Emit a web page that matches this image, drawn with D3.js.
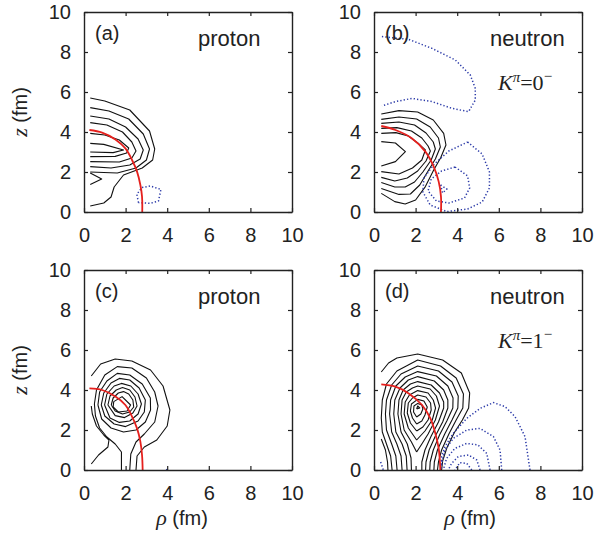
<!DOCTYPE html>
<html><head><meta charset="utf-8">
<script src="https://cdn.jsdelivr.net/npm/d3@7"></script>
<style>body{margin:0;background:#fff}</style>
</head><body>
<svg id="chart" width="596" height="546"></svg>
<script>
// ---------- data (rho, z) in fm ----------
const tickValues = [0, 2, 4, 6, 8, 10];
const tickLabels = ["0", "2", "4", "6", "8", "10"];
const panelLetters = ["(a)", "(b)", "(c)", "(d)"];
const panelNucleons = ["proton", "neutron", "proton", "neutron"];
const panelK = [null, "0", null, "1"];

// panel (a) proton, K=0-
const solidA = [
  [[0.3,5.7],[1.0,5.55],[2.2,5.1],[3.15,4.05],[3.4,3.15],[3.3,2.6],[2.8,2.2],[1.9,1.85],[1.45,1.25],[1.3,0.75],[0.95,0.45],[0.3,0.3]],
  [[0.3,5.22],[1.2,5.05],[2.15,4.65],[2.85,3.9],[3.15,3.15],[3.0,2.6],[2.5,2.2],[1.6,1.95],[0.3,2.0]],
  [[0.3,4.8],[1.2,4.65],[2.0,4.25],[2.6,3.65],[2.85,3.1],[2.7,2.65],[2.2,2.35],[1.3,2.2],[0.3,2.27]],
  [[0.3,4.47],[1.1,4.35],[1.85,4.0],[2.3,3.5],[2.5,3.05],[2.3,2.7],[1.7,2.5],[0.3,2.52]],
  [[0.3,3.93],[1.0,3.85],[1.7,3.6],[2.15,3.2],[2.05,2.95],[1.5,2.78],[0.3,2.77]],
  [[0.3,3.43],[0.95,3.38],[1.9,3.1],[1.4,2.97],[0.3,3.0]],
  [[0.3,1.95],[0.85,1.65],[0.3,1.38]]
];
const dottedA = [
  [[2.62,0.47],[2.54,0.88],[2.78,1.22],[3.18,1.3],[3.7,1.13],[3.58,0.55],[3.18,0.43],[2.62,0.47]]
];
const redA = [[0.26,4.1],[0.87,3.97],[1.51,3.63],[1.99,3.18],[2.31,2.6],[2.55,2.02],[2.71,1.35],[2.79,0.77],[2.8,0.0]];

// panel (b) neutron, K=0-
const solidB = [
  [[0.35,4.9],[1.2,5.07],[2.1,5.0],[2.85,4.6],[3.35,3.93],[3.46,3.35],[3.2,2.7],[2.87,2.1],[2.47,1.27],[2.0,0.6],[1.5,0.4],[1.0,0.52],[0.35,0.93]],
  [[0.35,4.63],[1.2,4.75],[2.05,4.65],[2.7,4.25],[3.1,3.7],[3.19,3.25],[2.95,2.65],[2.6,2.05],[2.2,1.35],[1.75,0.9],[1.2,0.88],[0.35,1.18]],
  [[0.35,4.43],[1.2,4.5],[1.95,4.35],[2.5,3.95],[2.85,3.5],[2.95,3.15],[2.75,2.6],[2.35,2.0],[1.95,1.5],[1.5,1.25],[1.0,1.25],[0.35,1.47]],
  [[0.35,4.18],[1.1,4.22],[1.8,4.05],[2.3,3.7],[2.6,3.3],[2.71,3.05],[2.5,2.55],[2.1,2.05],[1.6,1.7],[1.0,1.55],[0.35,1.73]],
  [[0.35,3.93],[1.05,3.97],[1.65,3.8],[2.1,3.45],[2.47,3.1],[2.3,2.6],[1.85,2.2],[1.2,1.9],[0.35,2.02]],
  [[0.35,3.52],[1.03,3.45],[1.51,3.02],[1.03,2.52],[0.35,2.3]]
];
const dottedB = [
  [[0.38,8.77],[1.67,8.63],[2.79,8.18],[3.91,7.6],[4.63,6.85],[4.87,6.18],[4.87,5.6],[4.55,5.02],[3.75,5.18],[2.79,5.52],[1.83,5.68],[1.03,5.52],[0.38,5.3]],
  [[4.5,3.5],[5.2,2.9],[5.55,2.0],[5.55,1.2],[5.2,0.5],[4.5,0.15],[3.5,0.02],[2.7,0.35],[2.35,1.0],[2.4,1.7],[2.9,2.4],[3.6,3.05],[4.5,3.5]],
  [[3.9,2.25],[4.5,1.8],[4.6,1.2],[4.35,0.7],[3.6,0.45],[3.0,0.55],[2.6,1.05],[2.75,1.65],[3.25,2.05],[3.9,2.25]],
  [[3.2,1.35],[3.5,1.15],[3.3,0.95],[3.2,1.35]]
];
const redB = [[0.35,4.3],[1.03,4.1],[1.83,3.68],[2.47,3.02],[2.87,2.27],[3.11,1.52],[3.22,0.77],[3.22,0.0]];

// panel (c) proton, K=1-
const solidC = [
  [[0.35,4.7],[0.8,5.3],[1.5,5.55],[2.3,5.45],[3.2,5.0],[3.8,4.2],[4.13,3.0],[4.0,2.2],[3.5,1.5],[2.9,1.15],[2.55,0.7],[2.5,0.0]],
  [[1.8,0.0],[1.8,0.9],[1.5,1.3],[1.1,1.65],[0.75,2.1],[0.55,2.7],[0.5,3.3],[0.6,4.0],[1.0,4.75],[1.6,5.17],[2.3,5.1],[3.0,4.6],[3.4,3.9],[3.56,3.2],[3.4,2.4],[2.9,1.8],[2.5,1.4],[2.25,0.8],[2.2,0.0]],
  [[0.35,0.3],[0.7,0.75],[1.15,1.15],[1.2,1.5],[0.95,1.75],[0.6,2.2],[0.4,2.8],[0.35,3.2]],
  [[0.67,3.25],[0.75,3.9],[1.1,4.45],[1.6,4.83],[2.2,4.75],[2.8,4.3],[3.19,3.6],[3.2,3.0],[2.95,2.4],[2.5,2.0],[1.9,1.9],[1.3,2.1],[0.85,2.55],[0.67,3.25]],
  [[0.83,3.25],[0.95,3.85],[1.3,4.35],[1.7,4.58],[2.2,4.5],[2.65,4.1],[2.95,3.5],[2.9,2.9],[2.6,2.45],[2.0,2.17],[1.45,2.3],[1.0,2.7],[0.83,3.25]],
  [[0.99,3.25],[1.1,3.8],[1.45,4.2],[1.8,4.33],[2.25,4.2],[2.6,3.8],[2.76,3.3],[2.6,2.8],[2.2,2.45],[1.7,2.38],[1.25,2.6],[0.99,3.25]],
  [[1.15,3.25],[1.25,3.7],[1.55,4.0],[1.85,4.12],[2.2,4.0],[2.45,3.65],[2.55,3.2],[2.35,2.85],[1.95,2.62],[1.5,2.72],[1.15,3.25]],
  [[1.31,3.25],[1.4,3.6],[1.65,3.85],[1.9,3.92],[2.15,3.8],[2.35,3.5],[2.39,3.15],[2.2,2.9],[1.85,2.8],[1.5,2.95],[1.31,3.25]],
  [[1.43,3.42],[1.83,3.67],[2.24,3.25],[2.07,2.95],[1.65,2.9],[1.4,3.15],[1.43,3.42]]
];
const dottedC = [
  [[3.95,0.0],[4.05,0.05]]
];
const redC = [[0.26,4.08],[0.87,4.0],[1.51,3.67],[1.99,3.25],[2.31,2.67],[2.55,2.08],[2.71,1.42],[2.79,0.75],[2.82,0.0]];

// panel (d) neutron, K=1-
const solidD = [
  [[0.35,4.9],[0.7,5.35],[1.1,5.6],[2.1,5.8],[3.3,5.5],[4.2,4.85],[4.6,3.85],[4.55,3.1],[4.25,2.5],[3.85,1.85],[3.5,1.1],[3.3,0.45],[3.25,0.0]],
  [[0.35,1.55],[0.55,1.0],[0.65,0.4],[0.67,0.0]],
  [[0.87,0.0],[0.8,0.7],[0.6,1.3],[0.4,1.9],[0.35,2.6],[0.4,3.5],[0.6,4.3],[1.1,4.95],[2.1,5.5],[3.2,5.2],[3.95,4.6],[4.3,3.8],[4.27,3.1],[3.95,2.5],[3.6,1.8],[3.25,1.0],[3.1,0.4],[3.05,0.0]],
  [[1.11,0.0],[1.05,0.7],[0.85,1.3],[0.6,2.0],[0.55,2.8],[0.6,3.5],[0.85,4.25],[1.3,4.8],[2.1,5.2],[3.1,4.95],[3.75,4.4],[4.05,3.7],[4.03,3.1],[3.75,2.5],[3.4,1.8],[3.05,1.0],[2.9,0.4],[2.88,0.0]],
  [[1.35,0.0],[1.3,0.7],[1.1,1.3],[0.85,1.9],[0.75,2.8],[0.8,3.5],[1.05,4.2],[1.5,4.65],[2.1,4.92],[3.0,4.7],[3.55,4.2],[3.8,3.6],[3.79,3.1],[3.5,2.45],[3.15,1.75],[2.85,1.0],[2.7,0.4],[2.68,0.0]],
  [[1.59,0.0],[1.55,0.7],[1.35,1.3],[1.05,1.9],[0.95,2.8],[1.0,3.5],[1.25,4.1],[1.65,4.5],[2.1,4.67],[2.9,4.45],[3.35,4.0],[3.55,3.5],[3.55,3.1],[3.3,2.4],[2.95,1.7],[2.65,1.0],[2.5,0.4],[2.48,0.0]],
  [[1.8,0.0],[1.78,0.6],[1.6,1.3],[1.3,1.9],[1.15,2.8],[1.2,3.5],[1.4,4.0],[1.75,4.3],[2.1,4.42],[2.75,4.25],[3.15,3.85],[3.35,3.4],[3.35,3.1],[3.1,2.4],[2.75,1.7],[2.45,1.0],[2.3,0.4],[2.3,0.0]],
  [[2.05,0.9],[1.8,1.4],[1.45,2.0],[1.3,2.8],[1.35,3.5],[1.55,3.9],[1.85,4.1],[2.1,4.2],[2.7,4.05],[3.0,3.7],[3.15,3.2],[2.95,2.5],[2.6,1.8],[2.3,1.3],[2.05,0.9]],
  [[2.05,1.5],[1.65,2.1],[1.45,2.8],[1.5,3.4],[1.7,3.75],[2.1,3.97],[2.6,3.85],[2.85,3.5],[2.96,3.1],[2.8,2.5],[2.45,1.95],[2.05,1.5]],
  [[2.05,1.95],[1.75,2.35],[1.6,2.85],[1.65,3.35],[1.85,3.6],[2.1,3.75],[2.5,3.65],[2.72,3.35],[2.75,3.0],[2.6,2.5],[2.35,2.15],[2.05,1.95]],
  [[2.05,2.3],[1.85,2.6],[1.75,2.95],[1.8,3.3],[2.1,3.53],[2.4,3.45],[2.56,3.15],[2.45,2.75],[2.3,2.45],[2.05,2.3]],
  [[2.05,2.65],[1.9,2.9],[1.92,3.2],[2.1,3.33],[2.3,3.25],[2.35,3.05],[2.25,2.8],[2.05,2.65]],
  [[2.05,3.05],[2.2,3.1],[2.1,3.2],[2.05,3.05]]
];
const dottedD = [
  [[7.5,0.0],[7.26,1.67],[6.78,2.67],[6.3,3.17],[5.74,3.37],[5.1,3.08],[4.46,2.58],[3.81,1.83],[3.41,1.17],[3.25,0.67],[3.22,0.2]],
  [[6.14,0.0],[6.06,1.0],[5.74,1.67],[5.1,2.08],[4.46,2.0],[3.81,1.58],[3.41,1.0],[3.25,0.33],[3.23,0.0]],
  [[5.58,0.0],[5.42,0.83],[5.0,1.25],[4.46,1.33],[3.89,1.08],[3.49,0.58],[3.33,0.0]],
  [[5.1,0.0],[4.94,0.5],[4.54,0.75],[4.05,0.67],[3.73,0.33],[3.57,0.0]],
  [[4.7,0.0],[4.46,0.33],[4.13,0.37],[3.89,0.0]],
  [[0.32,0.4],[0.45,0.0]]
];
const redD = [[0.35,4.28],[1.03,4.17],[1.67,3.83],[2.31,3.25],[2.71,2.58],[2.95,1.83],[3.11,1.08],[3.19,0.0]];

// ---------- drawing ----------
const svg = d3.select("#chart");
const W = 208, H = 200;
const panels = [
  {x0: 84,  y0: 12,  solid: solidA, dotted: dottedA, red: redA},
  {x0: 374, y0: 12,  solid: solidB, dotted: dottedB, red: redB},
  {x0: 84,  y0: 270, solid: solidC, dotted: dottedC, red: redC},
  {x0: 374, y0: 270, solid: solidD, dotted: dottedD, red: redD}
];
const FONT = "'Liberation Sans', Arial, Helvetica, sans-serif";
const SERIF = "'Liberation Serif', 'Times New Roman', serif";

panels.forEach((p, i) => {
  const g = svg.append("g").attr("transform", `translate(${p.x0},${p.y0})`);
  const x = d3.scaleLinear().domain([0, 10]).range([0, W]);
  const y = d3.scaleLinear().domain([0, 10]).range([H, 0]);
  const line = d3.line().x(d => x(d[0])).y(d => y(d[1]));
  const smooth = d3.line().x(d => x(d[0])).y(d => y(d[1])).curve(d3.curveCatmullRom);

  const cid = "clip" + i;
  g.append("clipPath").attr("id", cid).append("rect").attr("width", W).attr("height", H);
  const plot = g.append("g").attr("clip-path", `url(#${cid})`);

  plot.selectAll("path.solid").data(p.solid).join("path").attr("class", "solid")
    .attr("d", line).attr("fill", "none").attr("stroke", "#111").attr("stroke-width", 1.1)
    .attr("stroke-linejoin", "round");
  plot.selectAll("path.dotted").data(p.dotted).join("path").attr("class", "dotted")
    .attr("d", line).attr("fill", "none").attr("stroke", "#2b3aa8").attr("stroke-width", 1.5)
    .attr("stroke-dasharray", "1.3 2.1");
  plot.append("path").datum(p.red).attr("d", smooth).attr("fill", "none")
    .attr("stroke", "#e5201d").attr("stroke-width", 1.8);

  const fmt = (d) => tickLabels[tickValues.indexOf(d)];
  const styleAxis = (sel) => {
    sel.select(".domain").attr("stroke", "#222").attr("stroke-width", 1.4);
    sel.selectAll(".tick line").attr("stroke", "#222").attr("stroke-width", 1.2);
    sel.selectAll("text").style("font-family", FONT).style("font-size", "20px").attr("fill", "#222");
  };
  g.append("g").attr("transform", `translate(0,${H})`)
    .call(d3.axisBottom(x).tickValues(tickValues).tickFormat(fmt).tickSize(-4).tickSizeOuter(0).tickPadding(16)).call(styleAxis);
  g.append("g")
    .call(d3.axisLeft(y).tickValues(tickValues).tickFormat(fmt).tickSize(-4).tickSizeOuter(0).tickPadding(13)).call(styleAxis);
  g.append("g")
    .call(d3.axisTop(x).tickValues(tickValues).tickFormat("").tickSize(-4).tickSizeOuter(0)).call(styleAxis);
  g.append("g").attr("transform", `translate(${W},0)`)
    .call(d3.axisRight(y).tickValues(tickValues).tickFormat("").tickSize(-4).tickSizeOuter(0)).call(styleAxis);

  g.append("text").attr("x", 11).attr("y", 28).text(panelLetters[i])
    .style("font-family", FONT).style("font-size", "20px").attr("fill", "#222");
  g.append("text").attr("x", i % 2 === 0 ? 114 : 116).attr("y", 34).text(panelNucleons[i])
    .style("font-family", FONT).style("font-size", "22px").attr("fill", "#222");
  if (panelK[i] !== null) {
    const t = g.append("text").attr("x", 124).attr("y", 78)
      .style("font-family", SERIF).style("font-size", "22px").attr("fill", "#222");
    t.append("tspan").text("K").style("font-style", "italic");
    t.append("tspan").text("π").style("font-style", "italic").style("font-size", "15px").attr("dy", -8);
    t.append("tspan").text("=" + panelK[i]).attr("dy", 8);
    t.append("tspan").text("−").style("font-size", "15px").attr("dy", -9);
  }
});

// axis titles
[112, 370].forEach(cy => {
  const t = svg.append("text").attr("transform", `translate(27,${cy}) rotate(-90)`)
    .attr("text-anchor", "middle").style("font-family", FONT).style("font-size", "20px").attr("fill", "#222");
  t.append("tspan").text("z").style("font-family", SERIF).style("font-style", "italic").style("font-size", "22px");
  t.append("tspan").text(" (fm)");
});
[182, 470].forEach(cx => {
  const t = svg.append("text").attr("x", cx).attr("y", 525)
    .attr("text-anchor", "middle").style("font-family", FONT).style("font-size", "20px").attr("fill", "#222");
  t.append("tspan").text("ρ").style("font-family", SERIF).style("font-style", "italic").style("font-size", "22px");
  t.append("tspan").text(" (fm)");
});
</script>
</body></html>
